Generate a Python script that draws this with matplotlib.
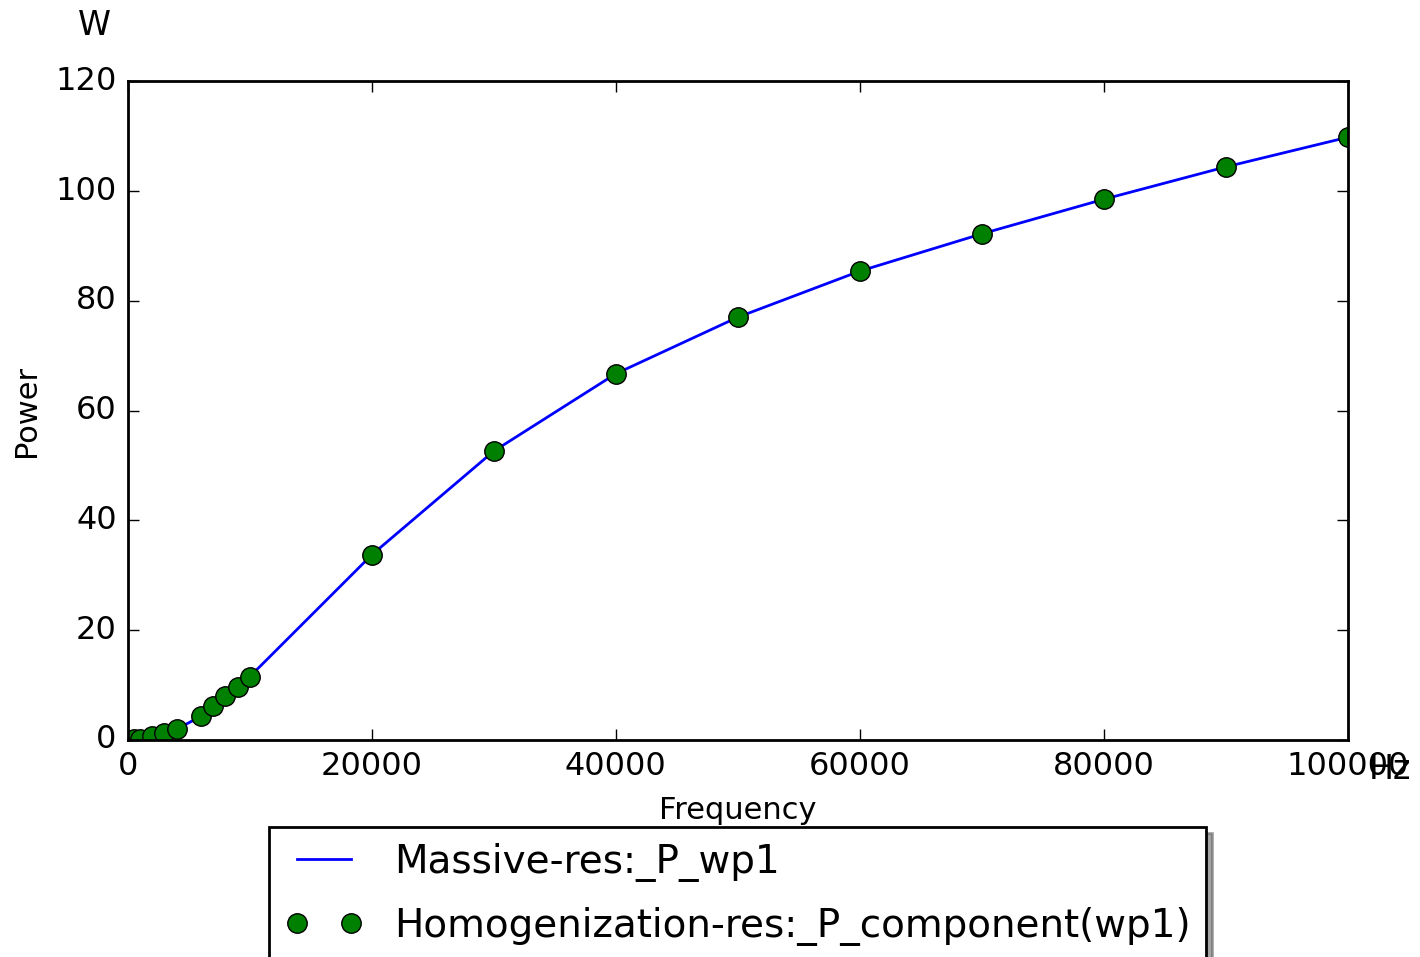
import numpy as np
import matplotlib
matplotlib.use('Agg')
import matplotlib.pyplot as plt

plt.style.use('classic')

# frequency [Hz] and power [W]
freq = [100, 500, 1000, 2000, 3000, 4000, 6000, 7000, 8000, 9000, 10000,
        20000, 30000, 40000, 50000, 60000, 70000, 80000, 90000, 100000]
p_massive = [0.0, 0.05, 0.2, 0.6, 1.2, 1.9, 4.3, 6.1, 7.9, 9.7, 11.5,
             33.7, 52.6, 66.7, 77.0, 85.4, 92.2, 98.5, 104.4, 109.8]
p_homog = [0.0, 0.05, 0.2, 0.6, 1.2, 1.9, 4.3, 6.1, 7.9, 9.7, 11.5,
           33.7, 52.6, 66.7, 77.0, 85.4, 92.2, 98.5, 104.4, 109.8]

fig = plt.figure(figsize=(7.1, 4.785), dpi=200)
ax = fig.add_axes([0.090, 0.227, 0.859, 0.688])

ax.plot(freq, p_massive, 'b-', lw=1.0, label='Massive-res:_P_wp1')
ax.plot(freq, p_homog, 'go', ms=7, label='Homogenization-res:_P_component(wp1)')

ax.set_xlim(0, 100000)
ax.set_ylim(0, 120)
ax.tick_params(labelsize=11.5)
ax.set_xlabel('Frequency', fontsize=11)
ax.set_ylabel('Power', fontsize=11)
ax.text(-0.027, 1.07, 'W', transform=ax.transAxes, fontsize=12, ha='center')
ax.text(1.035, -0.045, 'Hz', transform=ax.transAxes, fontsize=12, ha='center', va='center')

ax.legend(loc='upper center', bbox_to_anchor=(0.5, -0.115), fontsize=14,
          shadow=True, numpoints=2, borderaxespad=0.3, labelspacing=0.65)

fig.savefig('out.png', dpi=200)
